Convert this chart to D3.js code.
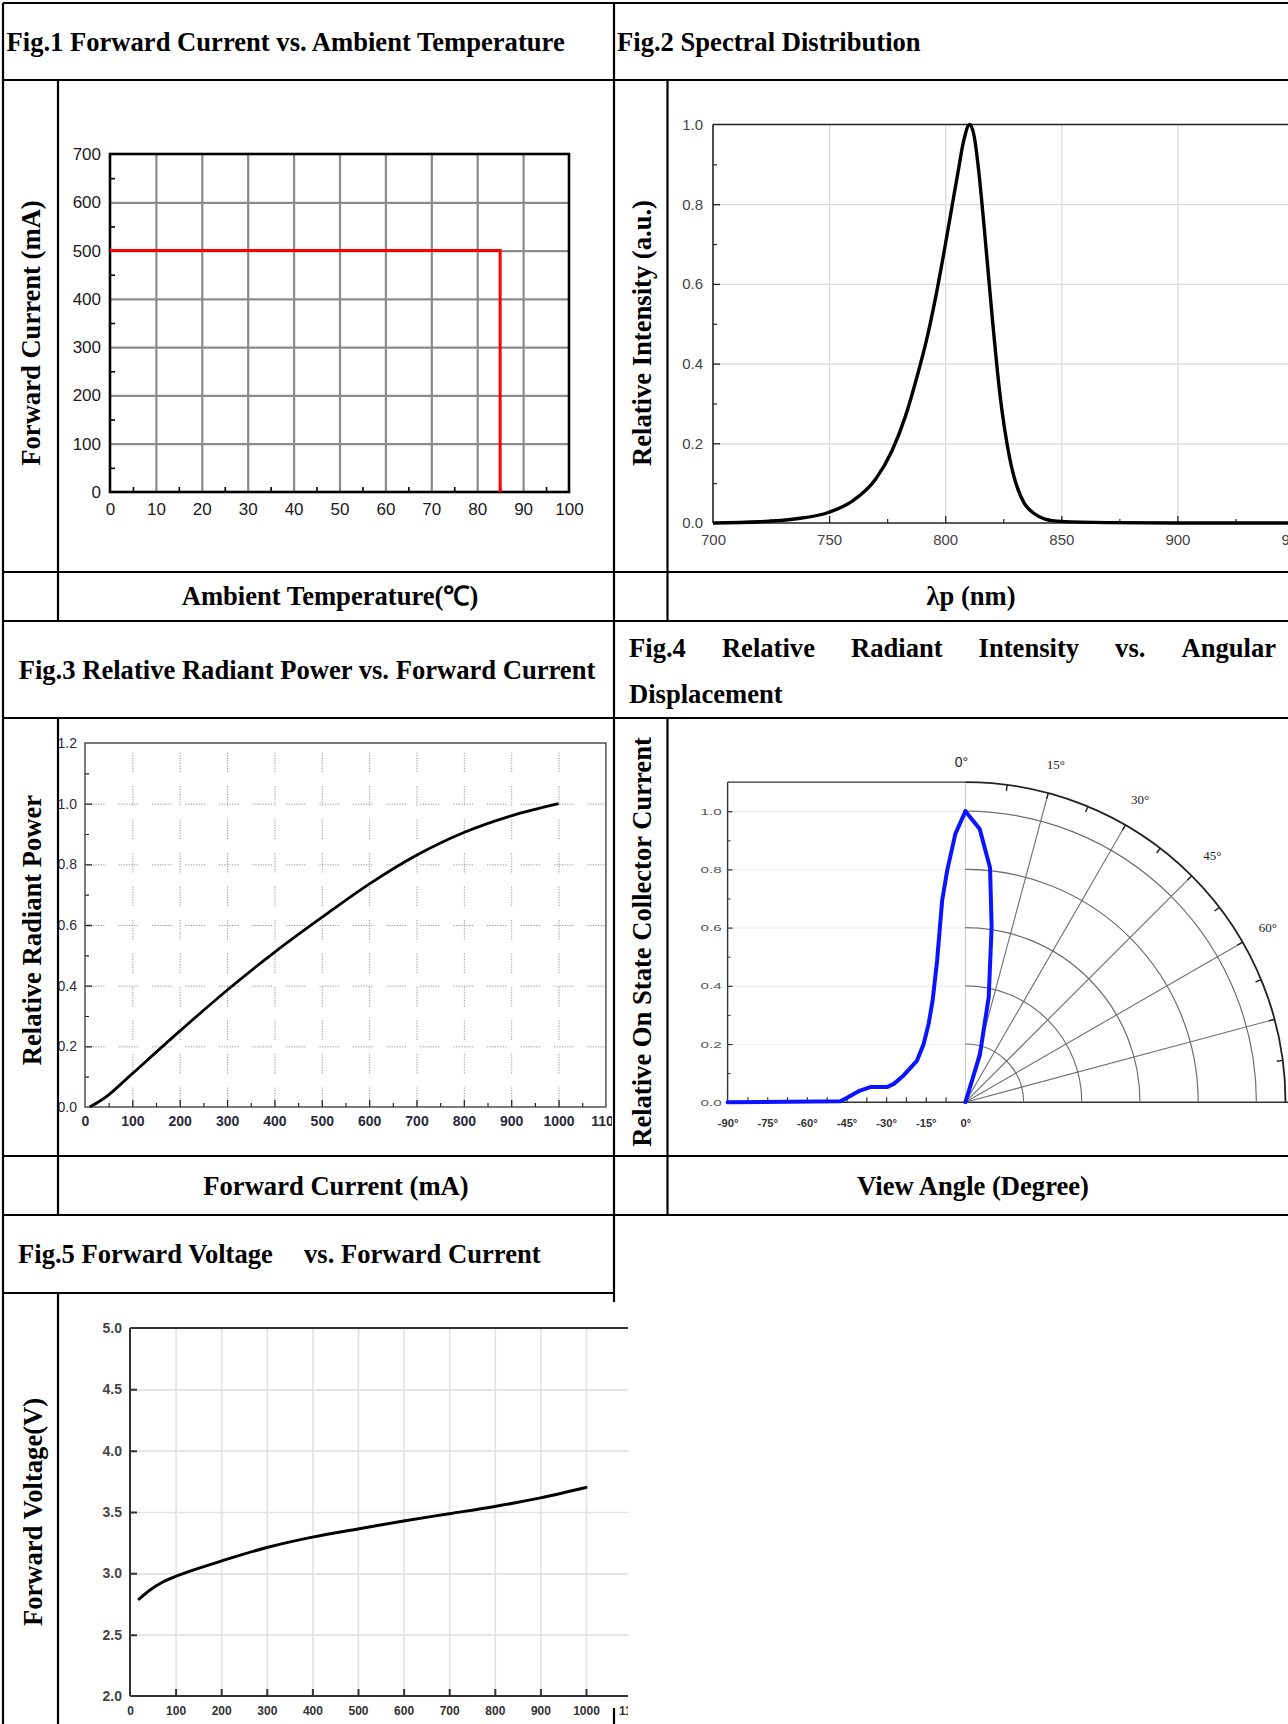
<!DOCTYPE html>
<html>
<head>
<meta charset="utf-8">
<script src="https://cdn.jsdelivr.net/npm/d3@7"></script>
<style>
  html, body { margin: 0; padding: 0; background: #fff; }
  svg { display: block; }
</style>
</head>
<body>
<svg id="page" width="1288" height="1724"></svg>
<script>
// ---------- data ----------
const fig1XTicks = [0, 10, 20, 30, 40, 50, 60, 70, 80, 90, 100];
const fig1YTicks = [0, 100, 200, 300, 400, 500, 600, 700];
const fig1Temp    = [0, 85, 85];
const fig1Current = [500, 500, 0];

const fig2XTicks = [700, 750, 800, 850, 900, 950];
const fig2YTicks = [0, 0.2, 0.4, 0.6, 0.8, 1.0];
const fig2Wavelength = [700, 720, 735, 750, 760, 770, 777, 783, 788, 792, 796, 799.5, 802.5, 805.5, 808, 810.5,
                        812.5, 814.5, 816.5, 818.5, 820.5, 822.5, 824.5, 826.6, 829, 831, 834, 838, 843, 850, 870, 900, 960];
const fig2Intensity  = [0, 0.003, 0.01, 0.027, 0.055, 0.11, 0.18, 0.27, 0.37, 0.46, 0.57, 0.68, 0.78, 0.88, 0.96, 1.0,
                        0.97, 0.88, 0.76, 0.63, 0.5, 0.38, 0.28, 0.2, 0.13, 0.09, 0.05, 0.025, 0.01, 0.004, 0.001, 0, 0];

const fig3XTicks = [0, 100, 200, 300, 400, 500, 600, 700, 800, 900, 1000, 1100];
const fig3YTicks = [0, 0.2, 0.4, 0.6, 0.8, 1.0, 1.2];
const fig3Current = [10, 30, 50, 100, 200, 300, 400, 500, 600, 700, 800, 900, 1000];
const fig3Power   = [0, 0.018, 0.04, 0.11, 0.25, 0.385, 0.51, 0.625, 0.735, 0.83, 0.905, 0.96, 1.0];

const fig4XTicks = [-90, -75, -60, -45, -30, -15, 0];
const fig4YTicks = [0, 0.2, 0.4, 0.6, 0.8, 1.0];
const fig4RingValues = [0.2, 0.4, 0.6, 0.8, 1.0];
const fig4SpokeAngles = [15, 30, 45, 60, 75];
const fig4AngleLabels = [0, 15, 30, 45, 60];
const fig4LeftAngle = [-90, -47.3, -44.8, -40.4, -36, -29.7, -27.1, -23.4, -18.3, -15.8, -13.9, -12.4, -10.7, -8.8, -6.9, -3.8, 0];
const fig4LeftValue = [0, 0.003, 0.015, 0.038, 0.052, 0.052, 0.063, 0.092, 0.143, 0.2, 0.27, 0.35, 0.487, 0.693, 0.796, 0.922, 1.0];
const fig4RightAngle = [0, 3, 6, 8.5, 12.5, 17, 45];
const fig4RightValue = [1.0, 0.94, 0.81, 0.61, 0.37, 0.17, 0];

const fig5XTicks = [0, 100, 200, 300, 400, 500, 600, 700, 800, 900, 1000, 1100];
const fig5YTicks = [2.0, 2.5, 3.0, 3.5, 4.0, 4.5, 5.0];
const fig5Current = [20, 44, 70, 100, 150, 200, 300, 400, 500, 600, 700, 800, 900, 1000];
const fig5Voltage = [2.79, 2.864, 2.925, 2.975, 3.04, 3.1, 3.21, 3.295, 3.362, 3.427, 3.486, 3.545, 3.615, 3.70];

// ---------- helpers ----------
const SERIF = '"Times New Roman","Liberation Serif",serif';
const SANS  = 'Arial,"Liberation Sans",sans-serif';
const W = 1288, H = 1724;
const svg = d3.select("#page");
svg.append("rect").attr("width", W).attr("height", H).attr("fill", "#fff");

const defs = svg.append("defs");
function clipRect(id, x, y, w, h) {
  defs.append("clipPath").attr("id", id).append("rect").attr("x", x).attr("y", y).attr("width", w).attr("height", h);
  return `url(#${id})`;
}

// tick marks / gridlines via d3 axes (no labels)
function ticks(parent, axisFn, scale, values, size, transform, stroke, width, dash) {
  const g = parent.append("g").attr("transform", transform)
    .call(axisFn(scale).tickValues(values).tickSize(size).tickFormat(""));
  g.select(".domain").remove();
  g.selectAll(".tick line").attr("stroke", stroke).attr("stroke-width", width)
    .attr("stroke-dasharray", dash || null);
  return g;
}
// labels via d3 axes (no tick lines)
function labels(parent, axisFn, scale, values, fmt, pad, transform, f) {
  const g = parent.append("g").attr("transform", transform)
    .call(axisFn(scale).tickValues(values).tickSize(0).tickPadding(pad).tickFormat(fmt));
  g.select(".domain").remove();
  g.selectAll(".tick line").remove();
  g.attr("font-family", f.family || SANS).attr("font-size", f.size);
  g.selectAll("text").attr("fill", f.color).attr("font-weight", f.weight || "normal");
  return g;
}
function hline(parent, x1, x2, y, stroke, w) {
  parent.append("line").attr("x1", x1).attr("x2", x2).attr("y1", y).attr("y2", y)
    .attr("stroke", stroke).attr("stroke-width", w);
}
function vline(parent, x, y1, y2, stroke, w) {
  parent.append("line").attr("x1", x).attr("x2", x).attr("y1", y1).attr("y2", y2)
    .attr("stroke", stroke).attr("stroke-width", w);
}
function boldText(parent, x, y, txt, anchor) {
  return parent.append("text").attr("x", x).attr("y", y)
    .attr("font-family", SERIF).attr("font-weight", "bold").attr("font-size", 26.6)
    .attr("fill", "#000").attr("text-anchor", anchor || "start").text(txt);
}
function sideLabel(parent, cx, cy, txt) {
  parent.append("text").attr("transform", `translate(${cx},${cy}) rotate(-90)`)
    .attr("dy", "0.35em").attr("text-anchor", "middle")
    .attr("font-family", SERIF).attr("font-weight", "bold").attr("font-size", 26.6)
    .attr("fill", "#000").text(txt);
}
const fmt1 = d3.format(".1f");
const smooth = d3.curveCatmullRom.alpha(0.5);

// ---------- Fig.1 ----------
{
  const g = svg.append("g");
  const x = d3.scaleLinear().domain([0, 100]).range([110, 569]);
  const y = d3.scaleLinear().domain([0, 700]).range([492, 154]);
  ticks(g, d3.axisBottom, x, fig1XTicks.slice(1, -1), -(y(0) - y(700)), `translate(0,${y(0)})`, "#8a8a8a", 2.2);
  ticks(g, d3.axisLeft, y, fig1YTicks.slice(1, -1), -(x(100) - x(0)), `translate(${x(0)},0)`, "#8a8a8a", 2.2);
  ticks(g, d3.axisBottom, x, d3.range(5, 100, 10), -5, `translate(0,${y(0)})`, "#000", 1.6);
  ticks(g, d3.axisLeft, y, d3.range(50, 700, 100), -5, `translate(${x(0)},0)`, "#000", 1.6);
  g.append("rect").attr("x", x(0)).attr("y", y(700)).attr("width", x(100) - x(0)).attr("height", y(0) - y(700))
    .attr("fill", "none").attr("stroke", "#000").attr("stroke-width", 2.6);
  const line = d3.line().x((d, i) => x(fig1Temp[i])).y((d, i) => y(fig1Current[i]));
  g.append("path").attr("d", line(fig1Temp)).attr("fill", "none").attr("stroke", "#ff0000").attr("stroke-width", 3);
  labels(g, d3.axisBottom, x, fig1XTicks, d3.format("d"), 10.5, `translate(0,${y(0)})`, { size: 17, color: "#1a1a1a" });
  labels(g, d3.axisLeft, y, fig1YTicks, d3.format("d"), 9, `translate(${x(0)},0)`, { size: 17, color: "#1a1a1a" });
}

// ---------- Fig.2 ----------
{
  const g = svg.append("g");
  const x = d3.scaleLinear().domain([700, 950]).range([713, 1293.5]);
  const y = d3.scaleLinear().domain([0, 1]).range([523, 124.5]);
  ticks(g, d3.axisBottom, x, [750, 800, 850, 900], -(y(0) - y(1)), `translate(0,${y(0)})`, "#d9d9d9", 1.2);
  ticks(g, d3.axisLeft, y, [0.2, 0.4, 0.6, 0.8], -(W - x(700)), `translate(${x(700)},0)`, "#d9d9d9", 1.2);
  ticks(g, d3.axisBottom, x, [750, 800, 850, 900, 950], -7, `translate(0,${y(0)})`, "#222", 1.3);
  ticks(g, d3.axisBottom, x, [725, 775, 825, 875, 925], -4, `translate(0,${y(0)})`, "#222", 1.2);
  ticks(g, d3.axisLeft, y, [0.2, 0.4, 0.6, 0.8], -7, `translate(${x(700)},0)`, "#222", 1.3);
  ticks(g, d3.axisLeft, y, [0.1, 0.3, 0.5, 0.7, 0.9], -4, `translate(${x(700)},0)`, "#222", 1.2);
  hline(g, x(700), W, y(1), "#222", 1.6);
  hline(g, x(700), W, y(0), "#222", 1.6);
  vline(g, x(700), y(1), y(0), "#222", 1.6);
  const line = d3.line().curve(d3.curveMonotoneX).x((d, i) => x(fig2Wavelength[i])).y((d, i) => y(fig2Intensity[i]));
  g.append("path").attr("d", line(fig2Wavelength)).attr("fill", "none").attr("stroke", "#000")
    .attr("stroke-width", 3.4).attr("stroke-linejoin", "round");
  labels(g, d3.axisBottom, x, fig2XTicks, d3.format("d"), 11.4, `translate(0,${y(0)})`, { size: 15, color: "#444" });
  labels(g, d3.axisLeft, y, fig2YTicks, fmt1, 10, `translate(${x(700)},0)`, { size: 15, color: "#444" });
}

// ---------- Fig.3 ----------
{
  const g = svg.append("g").attr("clip-path", clipRect("c3", 58.5, 722, 612 - 58.5, 430));
  const x = d3.scaleLinear().domain([0, 1100]).range([85, 605.9]);
  const y = d3.scaleLinear().domain([0, 1.2]).range([1107, 743]);
  const dots = "1.3,1.3,1.3,1.3,1.3,1.3,1.3,1.3,1.3,1.3,1.3,1.3,1.3,1.3,1.3,14";
  ticks(g, d3.axisBottom, x, d3.range(100, 1001, 100), -(y(0) - y(1.2)), `translate(0,${y(0)})`, "#9a9a9a", 1, dots);
  ticks(g, d3.axisLeft, y, [0.2, 0.4, 0.6, 0.8, 1.0], -(x(1100) - x(0)), `translate(${x(0)},0)`, "#9a9a9a", 1, dots);
  ticks(g, d3.axisBottom, x, d3.range(100, 1001, 100), -7, `translate(0,${y(0)})`, "#222", 1.3);
  ticks(g, d3.axisBottom, x, d3.range(50, 1100, 100), -4, `translate(0,${y(0)})`, "#222", 1.2);
  ticks(g, d3.axisLeft, y, [0.2, 0.4, 0.6, 0.8, 1.0], -7, `translate(${x(0)},0)`, "#222", 1.3);
  ticks(g, d3.axisLeft, y, [0.1, 0.3, 0.5, 0.7, 0.9, 1.1], -4, `translate(${x(0)},0)`, "#222", 1.2);
  g.append("rect").attr("x", x(0)).attr("y", y(1.2)).attr("width", x(1100) - x(0)).attr("height", y(0) - y(1.2))
    .attr("fill", "none").attr("stroke", "#444").attr("stroke-width", 1.4);
  const line = d3.line().curve(smooth).x((d, i) => x(fig3Current[i])).y((d, i) => y(fig3Power[i]));
  g.append("path").attr("d", line(fig3Current)).attr("fill", "none").attr("stroke", "#000").attr("stroke-width", 2.8);
  labels(g, d3.axisBottom, x, fig3XTicks, d3.format("d"), 9, `translate(0,${y(0)})`, { size: 14, color: "#2a2a3a", weight: "bold" });
  labels(g, d3.axisLeft, y, fig3YTicks, fmt1, 8, `translate(${x(0)},0)`, { size: 14, color: "#2a2a3a" });
}

// ---------- Fig.4 ----------
{
  const g = svg.append("g").attr("clip-path", clipRect("c4", 668, 730, W - 668, 425));
  const cx = 965.4, cy = 1102.2;
  const x = d3.scaleLinear().domain([-90, 0]).range([727.6, cx]);
  const y = d3.scaleLinear().domain([0, 1.1]).range([cy, cy - 320.1]);
  const r = d3.scaleLinear().domain([0, 1.1]).range([0, 320.1]);
  const rad = d => d * Math.PI / 180;

  // left cartesian half
  ticks(g, d3.axisLeft, y, [0.2, 0.4, 0.6, 0.8, 1.0], -(cx - x(-90)), `translate(${x(-90)},0)`, "#eeeeee", 1.2);
  vline(g, cx, y(0), y(1.1), "#c8c8c8", 1);
  ticks(g, d3.axisLeft, y, [0.2, 0.4, 0.6, 0.8, 1.0], -5, `translate(${x(-90)},0)`, "#333", 1.2);
  ticks(g, d3.axisLeft, y, [0.1, 0.3, 0.5, 0.7, 0.9], -3, `translate(${x(-90)},0)`, "#333", 1);
  ticks(g, d3.axisBottom, x, d3.range(-82.5, 0, 7.5), -5, `translate(0,${y(0)})`, "#333", 1.2);
  vline(g, x(-90), y(1.1), y(0), "#333", 1.4);
  hline(g, x(-90), cx, y(1.1), "#333", 1.4);
  hline(g, x(-90), W, y(0), "#333", 1.4);

  // right polar half
  const pg = g.append("g").attr("transform", `translate(${cx},${cy})`);
  const ring = d3.arc().startAngle(0).endAngle(Math.PI / 2);
  pg.selectAll("path.ring").data(fig4RingValues).join("path").attr("class", "ring")
    .attr("d", v => ring({ innerRadius: r(v), outerRadius: r(v) }))
    .attr("fill", "none").attr("stroke", "#6e6e6e").attr("stroke-width", 1.2);
  pg.selectAll("line.spoke").data(fig4SpokeAngles).join("line").attr("class", "spoke")
    .attr("x1", 0).attr("y1", 0)
    .attr("x2", a => r(1.1) * Math.sin(rad(a))).attr("y2", a => -r(1.1) * Math.cos(rad(a)))
    .attr("stroke", "#6e6e6e").attr("stroke-width", 1.1);
  pg.append("path").attr("d", ring({ innerRadius: r(1.1), outerRadius: r(1.1) }))
    .attr("fill", "none").attr("stroke", "#222").attr("stroke-width", 1.8);
  pg.selectAll("line.otick").data(d3.range(7.5, 90, 7.5)).join("line").attr("class", "otick")
    .attr("x1", a => r(1.1) * Math.sin(rad(a))).attr("y1", a => -r(1.1) * Math.cos(rad(a)))
    .attr("x2", a => (r(1.1) - 6) * Math.sin(rad(a))).attr("y2", a => -(r(1.1) - 6) * Math.cos(rad(a)))
    .attr("stroke", "#222").attr("stroke-width", 1.4);
  pg.selectAll("text.alab").data(fig4AngleLabels).join("text").attr("class", "alab")
    .attr("x", a => (a === 0 ? -4 : r(1.2) * Math.sin(rad(a))))
    .attr("y", a => (a === 0 ? -340 : -r(1.2) * Math.cos(rad(a))))
    .attr("dy", "0.35em").attr("text-anchor", "middle")
    .attr("font-family", a => (a === 0 ? SANS : SERIF)).attr("font-size", a => (a === 0 ? 14 : 13))
    .attr("fill", "#222").text(a => a + "°");

  // blue curve
  const left = d3.line().x((d, i) => x(fig4LeftAngle[i])).y((d, i) => y(fig4LeftValue[i]));
  g.append("path").attr("d", left(fig4LeftAngle)).attr("fill", "none").attr("stroke", "#0a14ff")
    .attr("stroke-width", 4).attr("stroke-linejoin", "round").attr("stroke-linecap", "round");
  const right = d3.lineRadial().angle((d, i) => rad(fig4RightAngle[i])).radius((d, i) => r(fig4RightValue[i]));
  pg.append("path").attr("d", right(fig4RightAngle)).attr("fill", "none").attr("stroke", "#0a14ff")
    .attr("stroke-width", 4).attr("stroke-linejoin", "round").attr("stroke-linecap", "round");

  // stretched small labels, like the scanned image
  const yl = labels(g, d3.axisLeft, y, fig4YTicks, fmt1, 0, `translate(${x(-90)},0)`, { size: 9.5, color: "#555" });
  yl.selectAll("text").attr("x", -3.7).attr("transform", "scale(1.6,1)");
  const xl = labels(g, d3.axisBottom, x, fig4XTicks, d => d + "°", 17.5, `translate(0,${y(0)})`, { size: 10, color: "#333", weight: "bold" });
  xl.selectAll("text").attr("transform", "scale(1.12,1)");
}

// ---------- Fig.5 ----------
{
  svg.append("rect").attr("x", 58).attr("y", 1302).attr("width", 628 - 58).attr("height", 408).attr("fill", "#fff");
  const g = svg.append("g").attr("clip-path", clipRect("c5", 58.5, 1302, 628 - 58.5, 422));
  const x = d3.scaleLinear().domain([0, 1100]).range([130, 631.6]);
  const y = d3.scaleLinear().domain([2, 5]).range([1696, 1328]);
  ticks(g, d3.axisBottom, x, d3.range(100, 1101, 100), -(y(2) - y(5)), `translate(0,${y(2)})`, "#e2e2e2", 1.6);
  ticks(g, d3.axisLeft, y, [2.5, 3.0, 3.5, 4.0, 4.5], -(W - x(0)), `translate(${x(0)},0)`, "#e2e2e2", 1.6);
  ticks(g, d3.axisBottom, x, d3.range(100, 1001, 100), -7, `translate(0,${y(2)})`, "#333", 2);
  ticks(g, d3.axisLeft, y, [2.5, 3.0, 3.5, 4.0, 4.5], -7, `translate(${x(0)},0)`, "#333", 2);
  hline(g, x(0), W, y(5), "#333", 2);
  hline(g, x(0), W, y(2), "#333", 2);
  vline(g, x(0), y(5), y(2), "#333", 2);
  const line = d3.line().curve(smooth).x((d, i) => x(fig5Current[i])).y((d, i) => y(fig5Voltage[i]));
  g.append("path").attr("d", line(fig5Current)).attr("fill", "none").attr("stroke", "#000")
    .attr("stroke-width", 3).attr("stroke-linecap", "round");
  labels(g, d3.axisBottom, x, fig5XTicks, d3.format("d"), 10.8, `translate(0,${y(2)})`, { size: 12, color: "#333", weight: "bold" });
  labels(g, d3.axisLeft, y, fig5YTicks, fmt1, 8, `translate(${x(0)},0)`, { size: 14, color: "#444", weight: "bold" });
}

// ---------- table text ----------
{
  const t = svg.append("g");
  boldText(t, 6.5, 50.5, "Fig.1 Forward Current vs. Ambient Temperature");
  boldText(t, 617, 50.5, "Fig.2 Spectral Distribution");
  boldText(t, 307, 678.5, "Fig.3 Relative Radiant Power vs. Forward Current", "middle");
  // Fig.4 title is justified across the cell
  const words = ["Fig.4", "Relative", "Radiant", "Intensity", "vs.", "Angular"];
  const nodes = words.map(w => boldText(t, 0, 657, w));
  const widths = nodes.map(n => n.node().getComputedTextLength());
  const gap = (1276 - 629 - d3.sum(widths)) / (words.length - 1);
  let cur = 629;
  nodes.forEach((n, i) => { n.attr("x", cur); cur += widths[i] + gap; });
  boldText(t, 629, 703, "Displacement");
  boldText(t, 18, 1263, "Fig.5 Forward Voltage");
  boldText(t, 304, 1263, "vs. Forward Current");

  boldText(t, 330, 605, "Ambient Temperature(℃)", "middle");
  boldText(t, 971, 605, "λp (nm)", "middle");
  boldText(t, 336, 1195, "Forward Current (mA)", "middle");
  boldText(t, 973, 1195, "View Angle (Degree)", "middle");

  sideLabel(t, 31, 333, "Forward Current (mA)");
  sideLabel(t, 642, 333, "Relative Intensity (a.u.)");
  sideLabel(t, 32, 930, "Relative Radiant Power");
  sideLabel(t, 642, 942, "Relative On State Collector Current");
  sideLabel(t, 33, 1512, "Forward Voltage(V)");
}

// ---------- table rules ----------
{
  const b = svg.append("g");
  const k = "#000", w = 2.2;
  [3, 80, 572, 621, 718, 1156, 1215].forEach(yy => hline(b, 3, W, yy, k, w));
  hline(b, 3, 614, 1293, k, w);
  vline(b, 3, 3, H, k, w);
  vline(b, 614, 3, 1302, k, w);
  vline(b, 614, 1708, H, k, w);
  vline(b, 58, 80, 621, k, w);
  vline(b, 58, 718, 1215, k, w);
  vline(b, 58, 1293, H, k, w);
  vline(b, 667.5, 80, 621, k, w);
  vline(b, 667.5, 718, 1215, k, w);
}
</script>
</body>
</html>
